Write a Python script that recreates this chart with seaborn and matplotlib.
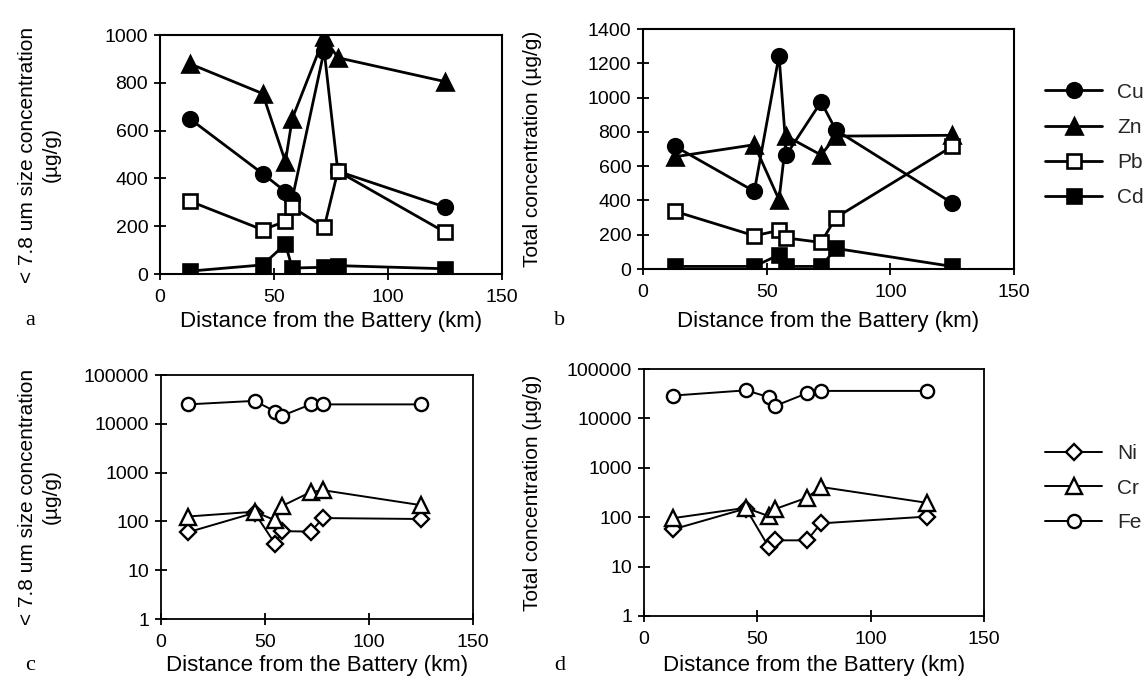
import numpy as np
import pandas as pd
import matplotlib
matplotlib.use("Agg")
import matplotlib.pyplot as plt
from matplotlib.ticker import FuncFormatter, NullLocator, FixedLocator
import seaborn as sns

# ---------------- data ----------------
distance_km = [13, 45, 55, 58, 72, 78, 125]

# panel a: < 7.8 um size fraction (ug/g)
a_Cu = [650, 420, 345, 315, 935, 430, 280]
a_Zn = [880, 755, 470, 650, 990, 905, 805]
a_Pb = [305, 185, 220, 280, 195, 430, 175]
a_Cd = [12, 38, 125, 25, 28, 35, 22]

# panel b: total concentration (ug/g)
b_Cu = [715, 453, 1245, 667, 975, 810, 385]
b_Zn = [655, 725, 404, 775, 665, 775, 780]
b_Pb = [336, 194, 225, 181, 155, 300, 715]
b_Cd = [15, 15, 83, 15, 15, 120, 15]

# panel c: < 7.8 um size fraction (ug/g), log scale
c_Ni = [60, 150, 34, 63, 62, 117, 112]
c_Cr = [126, 158, 105, 205, 400, 435, 215]
c_Fe = [25000, 29500, 17800, 14500, 25000, 25000, 25000]

# panel d: total concentration (ug/g), log scale
d_Ni = [57, 150, 25, 34, 34, 75, 103]
d_Cr = [96, 155, 105, 147, 250, 410, 195]
d_Fe = [29000, 37000, 27000, 18000, 32500, 36000, 36000]

x_ticks = [0, 50, 100, 150]
a_yticks = [0, 200, 400, 600, 800, 1000]
b_yticks = [0, 200, 400, 600, 800, 1000, 1200, 1400]
log_yticks = [1, 10, 100, 1000, 10000, 100000]

xlabel = "Distance from the Battery (km)"
ylabel_size = "< 7.8 um size concentration\n(\u00b5g/g)"
ylabel_total = "Total concentration (\u00b5g/g)"

# ---------------- style ----------------
sns.set_style("ticks")
plt.rcParams["font.family"] = ["Liberation Sans", "DejaVu Sans"]
plt.rcParams["mathtext.default"] = "regular"

W, H = 1146, 683
fig = plt.figure(figsize=(W / 100, H / 100), dpi=100)
fig.patch.set_facecolor("white")


def rect(l, r, t, b):
    return [l / W, 1 - b / H, (r - l) / W, (b - t) / H]


ax_a = fig.add_axes(rect(160, 502, 35, 274))
ax_b = fig.add_axes(rect(643, 1014, 29, 269))
ax_c = fig.add_axes(rect(161, 473, 375, 619))
ax_d = fig.add_axes(rect(644, 984, 369, 616))

top_style = dict(lw=2.0, ms_o=10.5, ms_s=9.5, ms_t=11.5, mew=1.9)
bot_style = dict(lw=1.4, ms_o=9.5, ms_D=8.0, ms_t=11.0, mew=1.7)


def series(ax, y, marker, ms, face, lw, mew, label):
    sns.lineplot(x=distance_km, y=y, ax=ax, color="black", marker=marker,
                 markersize=ms, markerfacecolor=face, markeredgecolor="black",
                 markeredgewidth=mew, linewidth=lw, label=label,
                 errorbar=None, sort=False)


for ax, (cu, zn, pb, cd) in [(ax_a, (a_Cu, a_Zn, a_Pb, a_Cd)),
                              (ax_b, (b_Cu, b_Zn, b_Pb, b_Cd))]:
    s = top_style
    series(ax, cu, "o", s["ms_o"], "black", s["lw"], s["mew"], "Cu")
    series(ax, zn, "^", s["ms_t"], "black", s["lw"], s["mew"], "Zn")
    series(ax, pb, "s", s["ms_s"], "white", s["lw"], s["mew"], "Pb")
    series(ax, cd, "s", s["ms_s"], "black", s["lw"], s["mew"], "Cd")

for ax, (ni, cr, fe) in [(ax_c, (c_Ni, c_Cr, c_Fe)),
                          (ax_d, (d_Ni, d_Cr, d_Fe))]:
    s = bot_style
    series(ax, ni, "D", s["ms_D"], "white", s["lw"], s["mew"], "Ni")
    series(ax, cr, "^", s["ms_t"], "white", s["lw"], s["mew"], "Cr")
    series(ax, fe, "o", s["ms_o"], "white", s["lw"], s["mew"], "Fe")

for ax in (ax_a, ax_b, ax_c, ax_d):
    leg = ax.get_legend()
    if leg is not None:
        leg.remove()
    ax.set_xlim(0, 150)
    ax.xaxis.set_major_locator(FixedLocator(x_ticks))
    ax.set_facecolor("white")
    for sp in ax.spines.values():
        sp.set_visible(True)
        sp.set_color("black")
        sp.set_linewidth(1.5 if ax in (ax_a, ax_b) else 1.3)
    ax.tick_params(axis="both", which="major", direction="inout", length=9,
                   width=1.3, color="black", labelsize=14, labelcolor="black")
    ax.tick_params(axis="y", pad=4)
    ax.tick_params(axis="x", pad=6)
    ax.set_xlabel(xlabel, fontsize=16, color="black")
    ax.set_ylabel("")

ax_a.set_ylim(0, 1000)
ax_a.yaxis.set_major_locator(FixedLocator(a_yticks))
ax_b.set_ylim(0, 1400)
ax_b.yaxis.set_major_locator(FixedLocator(b_yticks))

for ax in (ax_c, ax_d):
    ax.set_yscale("log")
    ax.set_ylim(1, 100000)
    ax.yaxis.set_major_locator(FixedLocator(log_yticks))
    ax.yaxis.set_minor_locator(NullLocator())
    ax.yaxis.set_major_formatter(FuncFormatter(lambda v, p: f"{v:g}"))

# y labels
for ax, txt, xpx, (l, r) in [(ax_a, ylabel_size, 39, (160, 502)),
                             (ax_c, ylabel_size, 39, (161, 473)),
                             (ax_b, ylabel_total, 533, (643, 1014)),
                             (ax_d, ylabel_total, 533, (644, 984))]:
    ax.set_ylabel(txt, fontsize=15, color="black", ha="center", va="center",
                  linespacing=1.3)
    ax.yaxis.set_label_coords((xpx - l) / (r - l), 0.5)

# x labels
for ax, ypx, (t, b) in [(ax_a, 321, (35, 274)), (ax_b, 321, (29, 269)),
                        (ax_c, 666, (375, 619)), (ax_d, 666, (369, 616))]:
    ax.xaxis.label.set_va("center")
    ax.xaxis.set_label_coords(0.5, -(ypx - b) / (b - t))

# panel letters
for letter, xpx, ypx in [("a", 30, 321), ("b", 560, 321), ("c", 30, 666), ("d", 560, 666)]:
    fig.text(xpx / W, 1 - ypx / H, letter, fontsize=16,
             family=["Liberation Serif", "DejaVu Serif"],
             ha="center", va="center", color="black")

# legends
h1, l1 = ax_a.get_legend_handles_labels()
fig.legend(h1, l1, loc="center left", bbox_to_anchor=(1045 / W, 1 - 145 / H),
           frameon=False, fontsize=15, handlelength=2.75, handletextpad=0.7,
           labelspacing=0.78, borderpad=0, borderaxespad=0)
h2, l2 = ax_c.get_legend_handles_labels()
fig.legend(h2, l2, loc="center left", bbox_to_anchor=(1045 / W, 1 - 488 / H),
           frameon=False, fontsize=15, handlelength=2.75, handletextpad=0.7,
           labelspacing=0.75, borderpad=0, borderaxespad=0)

fig.savefig("out.png", dpi=100, facecolor="white")
